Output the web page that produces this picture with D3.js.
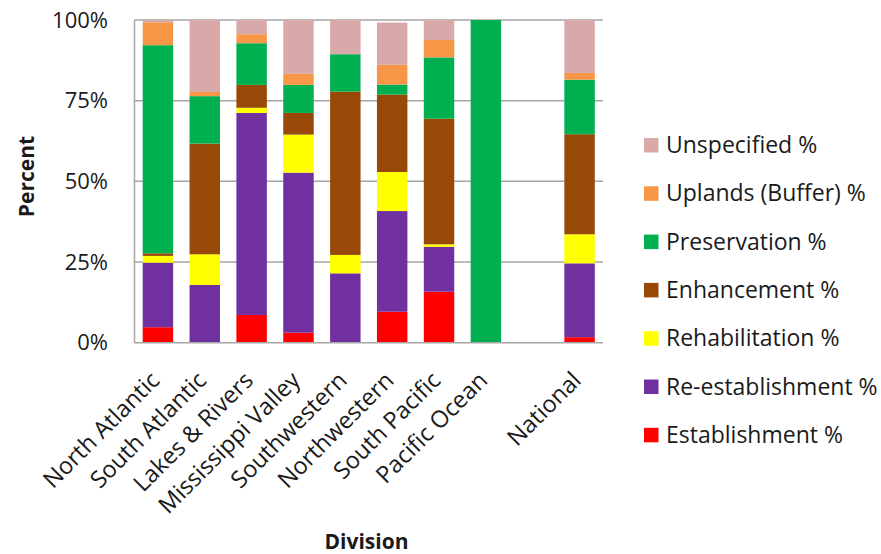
<!DOCTYPE html>
<html><head><meta charset="utf-8">
<script src="https://cdn.jsdelivr.net/npm/d3@7"></script>
<style>body{margin:0;background:#fff}svg{display:block}text{font-family:"Open Sans",sans-serif;fill:#1a1a1a}</style>
</head><body>
<svg id="c" width="881" height="554"></svg>
<script>
const categories = ["North Atlantic","South Atlantic","Lakes & Rivers","Mississippi Valley","Southwestern","Northwestern","South Pacific","Pacific Ocean","","National"];
const establishment    = [4.8, 0,    8.6, 3.1,  0,    9.6, 15.8, 0,   null, 1.7];
const reestablishment  = [20.0,17.9, 62.6,49.6, 21.5, 31.2,13.9, 0,   null, 22.9];
const rehabilitation   = [2.1, 9.5,  1.6, 11.8, 5.7,  12.1,0.8,  0,   null, 9.0];
const enhancement      = [0.8, 34.3, 7.1, 6.7,  50.6, 24.0,38.9, 0,   null, 31.0];
const preservation     = [64.5,14.7, 12.9,8.7,  11.6, 3.1, 19.0, 100, null, 16.9];
const uplands          = [7.1, 1.3,  2.8, 3.4,  0,    6.1, 5.4,  0,   null, 2.1];
const unspecified      = [0.7, 22.3, 4.4, 16.7, 10.6, 13.1,6.2,  0,   null, 16.4];
const yTicks = [0, 25, 50, 75, 100];
const yTickLabels = ["0%","25%","50%","75%","100%"];

const seriesNames = ["Establishment %","Re-establishment %","Rehabilitation %","Enhancement %","Preservation %","Uplands (Buffer) %","Unspecified %"];
const seriesData = [establishment, reestablishment, rehabilitation, enhancement, preservation, uplands, unspecified];
const colors = ["#ff0000","#7030a0","#ffff00","#984807","#00b050","#f79646","#d9a9a9"];

const svg = d3.select("#c");
const M = {left:134.5, right:603, top:20, bottom:342.7};
const x = d3.scaleBand().domain(d3.range(categories.length)).range([M.left, M.right]).paddingInner(0.35).paddingOuter(0.175);
const y = d3.scaleLinear().domain([0,100]).range([M.bottom, M.top]);

// gridlines
svg.append("g").selectAll("line").data(yTicks.filter(d=>d>0)).join("line")
  .attr("x1", M.left).attr("x2", M.right).attr("y1", d=>y(d)).attr("y2", d=>y(d))
  .attr("stroke","#a6a6a6").attr("stroke-width",1.5);

// stacked bars
const rows = categories.map((c,i)=>{ const r={i}; seriesNames.forEach((s,k)=>r[s]=seriesData[k][i]||0); return r; });
const stack = d3.stack().keys(seriesNames)(rows);
const g = svg.append("g");
stack.forEach((layer,k)=>{
  g.selectAll(null).data(layer).join("rect")
    .attr("x", d=>x(d.data.i)).attr("width", x.bandwidth())
    .attr("y", d=>y(d[1])).attr("height", d=>Math.max(0, y(d[0])-y(d[1])))
    .attr("fill", colors[k]);
});

// axes lines
svg.append("line").attr("x1",M.left).attr("x2",M.left).attr("y1",M.top).attr("y2",M.bottom).attr("stroke","#a6a6a6").attr("stroke-width",1.5);
svg.append("line").attr("x1",M.left).attr("x2",M.right).attr("y1",M.bottom).attr("y2",M.bottom).attr("stroke","#a6a6a6").attr("stroke-width",1.5);

// y tick labels
svg.append("g").selectAll("text").data(yTicks).join("text")
  .attr("x", 108).attr("y", d=>y(d)+7.5).attr("text-anchor","end")
  .style("font-size","22px").text((d,i)=>yTickLabels[i]);

// x labels
svg.append("g").selectAll("text").data(categories).join("text")
  .attr("transform",(d,i)=>`translate(${x(i)+x.bandwidth()/2+3},${M.bottom+39}) rotate(-45)`)
  .attr("text-anchor","end").style("font-size","23.5px").text(d=>d);

// axis titles
svg.append("text").attr("x",366.5).attr("y",549).attr("text-anchor","middle")
  .style("font-size","21px").style("font-weight","bold").text("Division");
svg.append("text").attr("transform","translate(34,176.5) rotate(-90)").attr("text-anchor","middle")
  .style("font-size","21px").style("font-weight","bold").text("Percent");

// legend (top to bottom: Unspecified ... Establishment)
const legendOrder = d3.range(seriesNames.length).reverse();
const lg = svg.append("g");
legendOrder.forEach((k,j)=>{
  const cy = 145 + j*48.3;
  lg.append("rect").attr("x",644).attr("y",cy-7).attr("width",14.5).attr("height",14.5).attr("fill",colors[k]);
  lg.append("text").attr("x",666).attr("y",cy+8).style("font-size","23px").text(seriesNames[k]);
});
</script>
</body></html>
